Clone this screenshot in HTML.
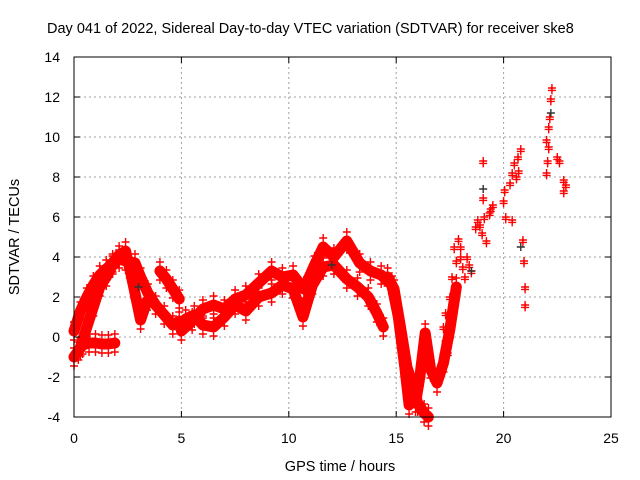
<!DOCTYPE html>
<html><head><meta charset="utf-8"><style>
html,body{margin:0;padding:0;background:#fff;}
svg{display:block;font-family:"Liberation Sans",Arial,sans-serif;}
</style></head><body>
<svg id="chart" width="640" height="480" viewBox="0 0 640 480" xmlns="http://www.w3.org/2000/svg">
<text x="47" y="33" font-size="14.5" fill="#000">Day 041 of 2022, Sidereal Day-to-day VTEC variation (SDTVAR) for receiver ske8</text>
<g id="grid"></g>
<g id="marks"></g>
<rect x="74" y="57" width="537" height="360" fill="none" stroke="#000" stroke-width="1"/>
<g id="ticks"></g>
<text x="340" y="471" font-size="14.5" text-anchor="middle">GPS time / hours</text>
<text transform="translate(19,237) rotate(-90)" font-size="14.5" text-anchor="middle">SDTVAR / TECUs</text>
</svg>
<script>
const xTicks=[0,5,10,15,20,25];
const yTicks=[-4,-2,0,2,4,6,8,10,12,14];
const track1T=[0,0.2,0.4,0.7,1.0,1.3,1.6,1.9];
const track1V=[-1,-0.7,-0.4,-0.3,-0.3,-0.35,-0.35,-0.3];
const track2T=[0,0.3,0.6,0.9,1.2,1.5,1.8,2.1,2.4,2.6,2.8,3.1,3.4];
const track2V=[0.3,1.3,2.0,2.6,3.1,3.4,3.7,4.1,4.3,3.4,2.4,0.85,1.8];
const track3T=[0.3,0.6,0.9,1.2,1.5,1.8,2.1,2.4,2.84,3.1,3.44,3.8,4.2,4.6,4.9];
const track3V=[-0.5,0.5,1.5,2.5,3.0,3.6,3.9,3.8,3.7,3.0,2.2,1.6,1.1,0.6,0.8];
const track4T=[4.0,4.3,4.6,4.9];
const track4V=[3.3,2.9,2.4,1.9];
const track5T=[5,5.5,6,6.5,7,7.5,8,8.6,9.2,9.7,10.2,10.7,11.2,11.6,12.1,12.7,13.3,13.8,14.3,14.8,15.1,15.4,15.6];
const track5V=[0.3,0.8,1.4,1.6,1.4,1.9,2.1,2.7,3.3,3.0,3.1,2.4,3.6,4.5,4.0,4.8,3.7,3.3,3.1,2.6,1.0,-1.5,-3.4];
const track6T=[5.2,5.6,6,6.5,7,7.5,8,8.6,9.2,9.7,10.2,10.66,11.1,11.6,12.1,12.7,13.2,13.7,14.1,14.4];
const track6V=[0.9,1.1,0.6,0.5,1.0,1.6,1.3,2.0,2.2,2.6,2.4,1.0,2.6,3.5,3.6,2.9,2.5,2.0,1.2,0.5];
const track7T=[14.6,14.9,15.2,15.5,15.8,16.0,16.3,16.5];
const track7V=[3.0,2.4,0.5,-1.5,-2.5,-3.3,-3.8,-4.0];
const track8T=[15.9,16.1,16.35,16.6,16.9,17.2,17.5,17.8];
const track8V=[-3.3,-2.0,0.2,-1.6,-2.3,-1.3,0.4,2.5];
const sparseT=[17.3,17.2,17.3,17.4,17.5,17.6,17.7,17.8,17.9,18.0,18.0,18.1,18.2,18.3,18.4,18.5,18.7,18.8,18.9,19.0,19.05,19.05,19.1,19.2,19.35,19.5,19.4,20.05,20.0,20.1,20.3,20.4,20.5,20.67,20.7,20.6,20.8,20.4,20.9,20.95,21.0,21.0,22.0,22.0,22.05,22.1,22.15,22.25,22.2,22.1,22.5,22.6,22.8,22.8,22.9];
const sparseV=[1.2,0.5,-0.2,-0.8,2.0,3.0,4.5,3.8,4.9,4.5,4.0,3.5,3.0,4.0,3.6,3.3,5.5,5.85,5.6,5.2,6.95,8.8,6.0,4.8,6.2,6.6,6.4,7.35,6.8,6.0,7.7,8.2,8.7,9.0,8.3,8.0,9.4,5.85,4.85,3.8,2.5,1.6,9.85,8.2,8.8,10.5,11.0,12.45,11.9,9.5,9.0,8.8,7.85,7.3,7.6];
const blackT=[19.05,20.8,22.2,12.0,3.0,18.5];
const blackV=[7.4,4.5,11.2,3.6,2.5,3.3];

const NS='http://www.w3.org/2000/svg';
const X=t=>74+t*537/25, Y=v=>57+(14-v)*20;
const grid=document.getElementById('grid'), marks=document.getElementById('marks'), ticks=document.getElementById('ticks');
function mk(tag,attrs,parent){const e=document.createElementNS(NS,tag);for(const k in attrs)e.setAttribute(k,attrs[k]);parent.appendChild(e);return e;}
xTicks.forEach(t=>{
  if(t>0&&t<25){const g=mk('line',{x1:X(t),x2:X(t),y1:57,y2:417,stroke:'#a0a0a0','stroke-dasharray':'2,3'},grid);
  
  }
  const a=mk('line',{x1:X(t),x2:X(t),y1:417,y2:411,stroke:'#000'},ticks);
  
  
  const b=mk('line',{x1:X(t),x2:X(t),y1:57,y2:63,stroke:'#000'},ticks);
  
  
  const l=mk('text',{x:X(t),y:443,'font-size':14,'text-anchor':'middle'},ticks);l.textContent=t;
  
  
});
yTicks.forEach(v=>{
  if(v>-4&&v<14){const g=mk('line',{x1:74,x2:611,y1:Y(v),y2:Y(v),stroke:'#a0a0a0','stroke-dasharray':'2,3'},grid);
  
  }
  const a=mk('line',{x1:74,x2:80,y1:Y(v),y2:Y(v),stroke:'#000'},ticks);
  
  
  const b=mk('line',{x1:605,x2:611,y1:Y(v),y2:Y(v),stroke:'#000'},ticks);
  
  
  const l=mk('text',{x:60,y:Y(v)+5,'font-size':14,'text-anchor':'end'},ticks);l.textContent=v;
  
  
});
function plus(t,v,color){
  const x=X(t),y=Y(v);
  const p=mk('path',{d:`M${x-4},${y}H${x+4}M${x},${y-4}V${y+4}`,stroke:color,'stroke-width':1.4,fill:'none'},marks);
  
  
}
const tracks=[[track1T,track1V],[track2T,track2V],[track3T,track3V],[track4T,track4V],[track5T,track5V],[track6T,track6V],[track7T,track7V],[track8T,track8V]];
tracks.forEach(([T,V])=>{
  const pl=mk('polyline',{points:T.map((t,i)=>X(t)+','+Y(V[i])).join(' '),fill:'none',stroke:'#ff0000','stroke-width':11,'stroke-linejoin':'round','stroke-linecap':'round'},marks);
  
  
  T.forEach((t,i)=>{plus(t,V[i]+0.45,'#ff0000');plus(t,V[i]-0.45,'#ff0000');});
});
sparseT.forEach((t,i)=>{plus(t,sparseV[i],'#ff0000');plus(t,sparseV[i]-0.12,'#ff0000');});
blackT.forEach((t,i)=>plus(t,blackV[i],'#333333'));
</script>
</body></html>
